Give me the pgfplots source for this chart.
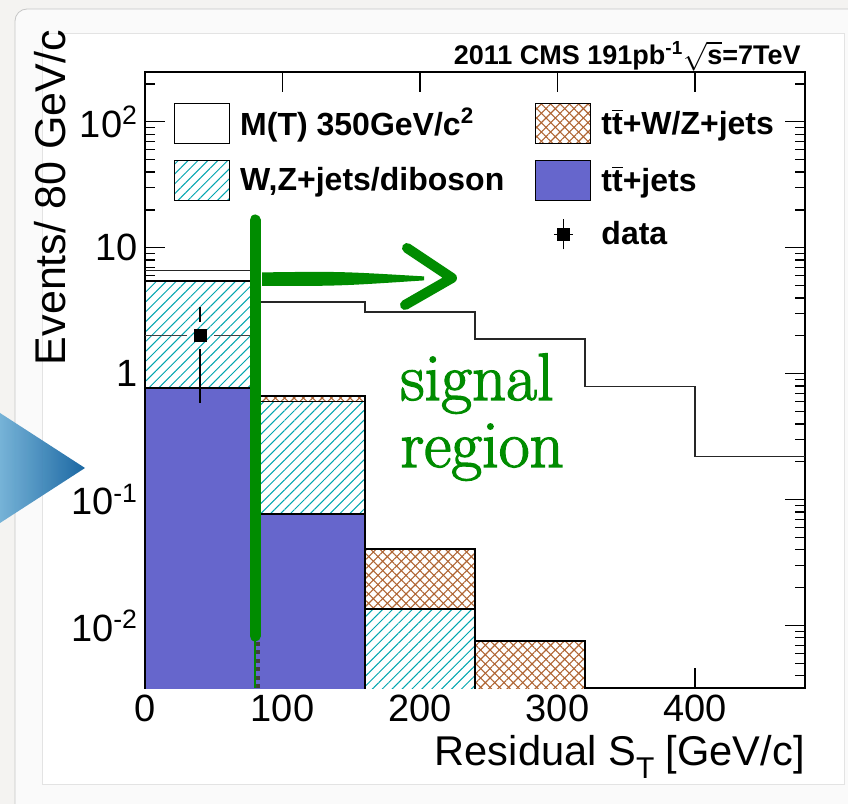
\documentclass[border=0pt]{standalone}
\usepackage{pgfplots}
\pgfplotsset{compat=1.18}
\usepackage{fontspec}
\newfontfamily\helv{Liberation Sans}
\newfontfamily\lmr[FakeBold=2]{Latin Modern Roman}
\usetikzlibrary{patterns.meta}
\definecolor{bgout}{RGB}{244,243,241}
\definecolor{panel}{RGB}{250,250,250}
\definecolor{ttblue}{RGB}{102,102,204}
\definecolor{hcyan}{RGB}{0,165,175}
\definecolor{xbrown}{RGB}{175,100,50}
\definecolor{sgreen}{RGB}{0,140,0}
\definecolor{triL}{RGB}{112,176,214}
\definecolor{triR}{RGB}{16,96,158}
\tikzset{
  cyanhatch/.style={fill=white, postaction={pattern={Lines[angle=45,distance=3.5pt,line width=0.5pt]}, pattern color=hcyan}},
  brownx/.style={fill=white, postaction={pattern={Lines[angle=45,distance=3.3pt,line width=0.55pt]}, pattern color=xbrown},
                 postaction={pattern={Lines[angle=-45,distance=3.3pt,line width=0.55pt]}, pattern color=xbrown}},
}
\begin{document}
\begin{tikzpicture}
\useasboundingbox (0,0) rectangle (424pt,402pt);
\begin{scope}
\clip (0,0) rectangle (424pt,402pt);
\fill[bgout] (0,0) rectangle (424pt,402pt);
\draw[rounded corners=6pt, fill=panel, draw=gray!45] (7.5pt,-20pt) rectangle (440pt,397.5pt);
\draw[fill=white, draw=gray!22] (21pt,10pt) rectangle (422pt,385.5pt);
\shade[left color=triL, right color=triR, opacity=0.95] (0,195.5pt) -- (42.5pt,168pt) -- (0,140.5pt) -- cycle;
\end{scope}

\begin{axis}[
  at={(72.5pt,58pt)}, anchor=south west,
  scale only axis, width=330pt, height=308pt,
  ymode=log, log origin=infty,
  xmin=0, xmax=480, ymin=0.0032, ymax=249,
  xtick={0,100,200,300,400},
  xticklabels={0,100,200,300,400},
  ytick={0.01,0.1,1,10,100},
  yticklabels={10\textsuperscript{-2},10\textsuperscript{-1},1,10,10\textsuperscript{2}},
  minor ytick={0.004,0.005,0.006,0.007,0.008,0.009,0.02,0.03,0.04,0.05,0.06,0.07,0.08,0.09,0.2,0.3,0.4,0.5,0.6,0.7,0.8,0.9,2,3,4,5,6,7,8,9,20,30,40,50,60,70,80,90,200},
  minor xtick={},
  tick align=inside,
  major tick length=10pt, minor tick length=5pt,
  tick style={black, line width=0.6pt},
  axis line style={line width=0.9pt},
  /pgf/number format/assume math mode=true,
  tick label style={font=\helv\fontsize{19}{22}\selectfont},
  xlabel={Residual S\raisebox{-0.32em}{\fontsize{15}{15}\selectfont T} [GeV/c]},
  xlabel style={at={(rel axis cs:1,0)}, anchor=base east, inner sep=0pt, yshift=-38.5pt, font=\helv\fontsize{20.8}{24}\selectfont},
  legend columns=2,
  legend cell align=left,
  legend style={draw=none, fill=none, inner sep=0pt, outer sep=0pt,
     at={(0.044,0.95)}, anchor=north west,
     font=\helv\bfseries\fontsize{16}{19}\selectfont, row sep=8pt,
     /tikz/every odd column/.append style={column sep=3pt},
     /tikz/every even column/.append style={column sep=13.5pt}},
]
% legend entries
\addlegendimage{legend image code/.code={\draw[black,line width=0.6pt,fill=white] (0pt,-10pt) rectangle (27.5pt,10pt);}}
\addlegendentry{M(T) 350GeV/c\textsuperscript{2}}
\addlegendimage{legend image code/.code={\draw[black,line width=0.6pt,brownx] (0pt,-10pt) rectangle (27.5pt,10pt); \draw[black,line width=0.6pt] (0pt,-10pt) rectangle (27.5pt,10pt);}}
\addlegendentry{t$\overline{\mbox{t}}$+W/Z+jets}
\addlegendimage{legend image code/.code={\draw[black,line width=0.6pt,cyanhatch] (0pt,-10pt) rectangle (27.5pt,10pt); \draw[black,line width=0.6pt] (0pt,-10pt) rectangle (27.5pt,10pt);}}
\addlegendentry{W,Z+jets/diboson}
\addlegendimage{legend image code/.code={\draw[black,line width=0.6pt,fill=ttblue] (0pt,-10pt) rectangle (27.5pt,10pt);}}
\addlegendentry{t$\overline{\mbox{t}}$+jets}
\addlegendimage{empty legend}
\addlegendentry{}
\addlegendimage{legend image code/.code={\draw[black,line width=0.6pt] (13.75pt,-7.5pt)--(13.75pt,7.5pt); \draw[black,line width=0.6pt] (9pt,0pt)--(18.5pt,0pt); \fill[black] (10.75pt,-3pt) rectangle (16.75pt,3pt);}}
\addlegendentry{data}

% stacked backgrounds (cumulative totals)
\addplot[forget plot, draw=black, line width=0.9pt, brownx] coordinates {
 (0,0.0001) (0,5.47) (80,5.47) (80,0.669) (160,0.669) (160,0.0408) (240,0.0408) (240,0.0076) (320,0.0076) (320,0.0001)} -- cycle;
\addplot[forget plot, draw=black, line width=0.9pt] coordinates {
 (0,0.0001) (0,5.47) (80,5.47) (80,0.669) (160,0.669) (160,0.0408) (240,0.0408) (240,0.0076) (320,0.0076) (320,0.0001)};
\addplot[forget plot, draw=black, line width=0.9pt, cyanhatch] coordinates {
 (0,0.0001) (0,5.47) (80,5.47) (80,0.603) (160,0.603) (160,0.0136) (240,0.0136) (240,0.0001)} -- cycle;
\addplot[forget plot, draw=black, line width=0.9pt] coordinates {
 (0,0.0001) (0,5.47) (80,5.47) (80,0.603) (160,0.603) (160,0.0136) (240,0.0136) (240,0.0001)};
\addplot[forget plot, draw=black, line width=0.9pt, fill=ttblue] coordinates {
 (0,0.0001) (0,0.774) (80,0.774) (80,0.077) (160,0.077) (160,0.0001)} -- cycle;

% signal M(T)=350
\addplot[forget plot, draw=black!85, line width=0.8pt] coordinates {
 (0,6.6) (80,6.6) (80,3.71) (160,3.71) (160,3.1) (240,3.1) (240,1.88) (320,1.88) (320,0.79) (400,0.79) (400,0.22) (480,0.22)};

% data: 2 +- 1.414
\addplot[forget plot, black, line width=0.6pt] coordinates {(40,3.414) (40,2.6)};
\addplot[forget plot, black, line width=0.6pt] coordinates {(40,1.56) (40,0.586)};
\addplot[forget plot, black!75, line width=0.6pt] coordinates {(0,2) (30.5,2)};
\addplot[forget plot, black!75, line width=0.6pt] coordinates {(50,2) (80,2)};
\addplot[forget plot, only marks, mark=square*, mark size=3pt, black] coordinates {(40,2)};
\end{axis}

% y label and header
\node[rotate=90, anchor=base east, inner sep=0pt, font=\helv\fontsize{21.5}{24}\selectfont] at (32.5pt,387pt) {Events/ 80 GeV/c};
\node[anchor=base east, inner sep=0pt, font=\helv\bfseries\fontsize{13.5}{16}\selectfont] at (400.5pt,369.5pt) {2011 CMS 191pb\textsuperscript{-1}$\sqrt{\mbox{s}}$=7TeV};

% green annotation
\draw[black!75, line width=2.5pt, dash pattern=on 2pt off 2.2pt] (128.75pt,58pt) -- (128.75pt,102pt);
\draw[sgreen, line width=1.2pt] (127.5pt,58pt) -- (127.5pt,86pt);
\draw[sgreen, line width=5.5pt, line cap=round] (127.5pt,84pt) -- (127.5pt,292pt);
\fill[sgreen] (131pt,265.8pt) .. controls (170pt,266.3pt) .. (212pt,263.8pt) -- (212pt,261.8pt) .. controls (170pt,259pt) .. (131pt,259pt) -- cycle;
\draw[sgreen, line width=5pt, line cap=round, line join=round] (203.5pt,278pt) -- (226pt,263pt) -- (202.5pt,249.5pt);
\node[anchor=base west, inner sep=0pt, text=sgreen, font=\lmr\fontsize{33.5}{33.5}\selectfont] at (200pt,202pt) {signal};
\node[anchor=base west, inner sep=0pt, text=sgreen, font=\lmr\fontsize{33.5}{33.5}\selectfont] at (200pt,168.5pt) {region};
\end{tikzpicture}
\end{document}
